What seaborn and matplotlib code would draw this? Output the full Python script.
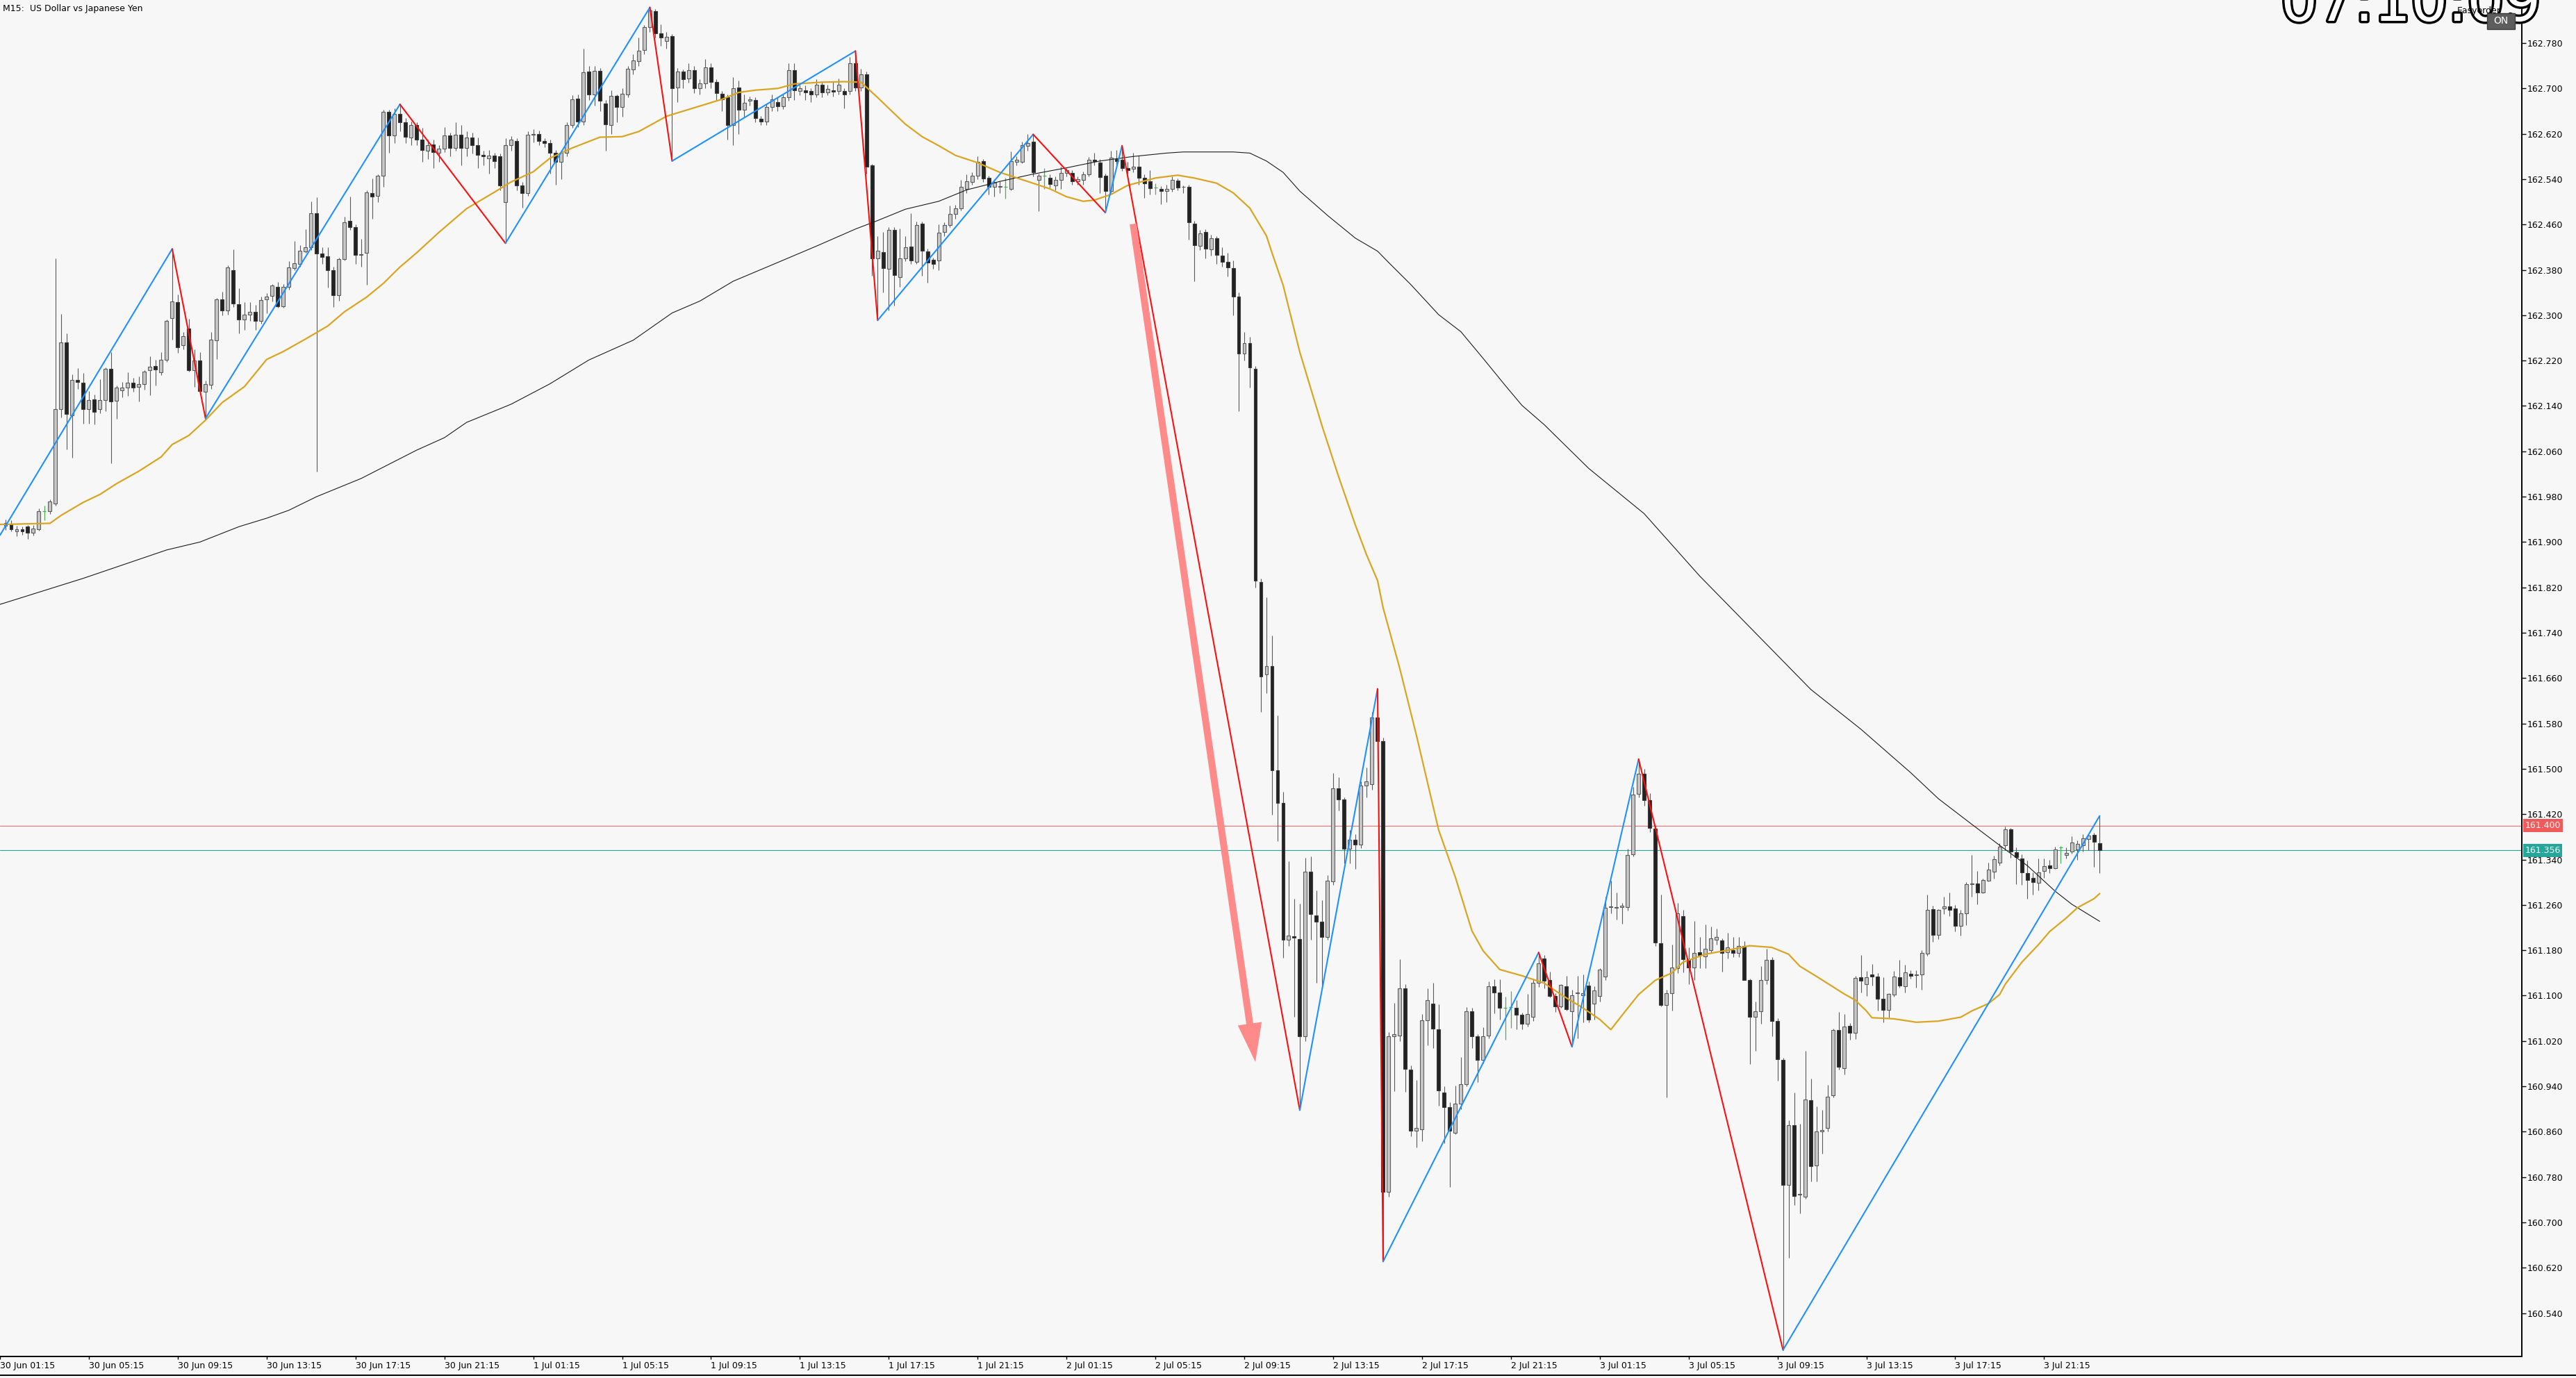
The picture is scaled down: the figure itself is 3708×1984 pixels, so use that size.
import numpy as np
import pandas as pd
import matplotlib
matplotlib.use("Agg")
import matplotlib.pyplot as plt
import matplotlib.transforms as mtransforms
from matplotlib import patheffects as pe
from matplotlib.patches import Rectangle
from matplotlib.lines import Line2D
import seaborn as sns

# ---------------- data (USDJPY, M15) ----------------
first_bar = "2024-06-30 01:30"

opens = [
 161.929,161.931,161.919,161.922,161.927,161.916,161.923,161.954,161.954,161.968,
 162.134,162.252,162.123,162.186,162.181,162.134,162.152,162.134,162.150,162.205,
 162.149,162.168,162.172,162.181,162.174,162.179,162.203,162.210,162.199,162.221,
 162.295,162.323,162.247,162.277,162.203,162.220,162.165,162.177,162.256,162.328,
 162.308,162.380,162.320,162.293,162.301,162.306,162.290,162.328,162.334,162.350,
 162.316,162.350,162.383,162.390,162.413,162.420,162.480,162.409,162.404,162.380,
 162.335,162.399,162.466,162.455,162.406,162.410,162.516,162.511,162.546,162.659,
 162.617,162.655,162.640,162.614,162.636,162.610,162.590,162.601,162.586,162.594,
 162.617,162.595,162.618,162.595,162.613,162.600,162.583,162.577,162.582,162.580,
 162.500,162.600,162.607,162.529,162.516,162.618,162.620,162.607,162.604,162.586,
 162.570,162.586,162.636,162.682,162.642,162.730,162.689,162.731,162.673,162.636,
 162.687,162.667,162.690,162.734,162.748,162.768,162.808,162.837,162.797,162.784,
 162.792,162.702,162.730,162.718,162.732,162.700,162.709,162.737,162.711,162.691,
 162.684,162.636,162.702,162.663,162.678,162.679,162.647,162.642,162.667,162.676,
 162.669,162.685,162.732,162.696,162.697,162.696,162.690,162.706,162.693,162.697,
 162.696,162.696,162.696,162.744,162.702,162.725,162.564,162.400,162.411,162.382,
 162.451,162.367,162.400,162.421,162.394,162.461,162.413,162.398,162.396,162.447,
 162.459,162.479,162.489,162.523,162.535,162.546,162.572,162.542,162.527,162.527,
 162.527,162.523,162.571,162.571,162.599,162.606,162.539,162.546,162.543,162.529,
 162.539,162.551,162.551,162.536,162.539,162.549,162.574,162.569,162.546,162.519,
 162.576,162.574,162.560,162.558,162.562,162.543,162.536,162.525,162.523,162.519,
 162.523,162.537,162.526,162.526,162.462,162.422,162.447,162.416,162.436,162.405,
 162.394,162.383,162.333,162.232,162.251,162.206,161.830,161.666,161.681,161.497,
 161.440,161.199,161.205,161.200,161.028,161.319,161.242,161.230,161.203,161.301,
 161.466,161.446,161.359,161.375,161.366,161.470,161.473,161.591,161.549,160.754,
 161.028,161.030,161.113,160.969,160.862,160.864,161.056,161.086,161.040,160.929,
 160.903,160.858,160.909,160.944,161.072,161.028,160.986,161.030,161.117,161.105,
 161.078,161.080,161.078,161.066,161.050,161.062,161.122,161.166,161.127,161.099,
 161.081,161.116,161.072,161.104,161.100,161.118,161.086,161.099,161.133,161.256,
 161.255,161.256,161.256,161.349,161.456,161.491,161.445,161.394,161.192,161.083,
 161.104,161.148,161.240,161.164,161.150,161.176,161.169,161.180,161.199,161.197,
 161.176,161.180,161.175,161.187,161.127,161.062,161.072,161.128,161.163,161.055,
 160.986,160.766,160.872,160.749,160.745,160.916,160.800,160.861,160.867,160.924,
 161.039,160.972,161.047,161.034,161.132,161.120,161.137,161.133,161.095,161.075,
 161.102,161.132,161.117,161.139,161.136,161.137,161.174,161.252,161.207,161.254,
 161.257,161.254,161.223,161.245,161.296,161.298,161.282,161.303,161.318,161.334,
 161.365,161.393,161.353,161.342,161.316,161.307,161.299,161.320,161.329,161.325,
 161.361,161.348,161.354,161.358,161.365,161.376,161.383,161.369]

highs = [
 161.940,161.938,161.929,161.928,161.930,161.930,161.959,161.964,161.975,162.400,
 162.302,162.268,162.196,162.207,162.198,162.166,162.160,162.187,162.208,162.235,
 162.176,162.182,162.199,162.190,162.192,162.203,162.227,162.222,162.235,162.293,
 162.417,162.336,162.270,162.294,162.240,162.235,162.185,162.271,162.330,162.341,
 162.388,162.416,162.348,162.323,162.323,162.318,162.333,162.339,162.355,162.359,
 162.355,162.395,162.431,162.423,162.452,162.501,162.508,162.420,162.420,162.385,
 162.402,162.474,162.509,162.460,162.435,162.520,162.541,162.548,162.663,162.663,
 162.665,162.672,162.648,162.642,162.640,162.630,162.610,162.610,162.600,162.632,
 162.622,162.640,162.636,162.625,162.622,162.613,162.590,162.592,162.586,162.585,
 162.612,162.616,162.612,162.535,162.625,162.628,162.626,162.612,162.610,162.592,
 162.592,162.640,162.688,162.690,162.770,162.740,162.740,162.736,162.680,162.697,
 162.690,162.700,162.740,162.760,162.790,162.812,162.843,162.840,162.813,162.800,
 162.796,162.736,162.734,162.745,162.740,162.716,162.752,162.745,162.716,162.695,
 162.690,162.720,162.714,162.690,162.686,162.684,162.652,162.672,162.690,162.684,
 162.690,162.745,162.745,162.706,162.705,162.700,162.716,162.713,162.706,162.712,
 162.718,162.700,162.755,162.766,162.735,162.730,162.567,162.440,162.447,162.455,
 162.455,162.453,162.440,162.480,162.465,162.465,162.418,162.402,162.460,162.464,
 162.493,162.495,162.539,162.549,162.552,162.580,162.576,162.546,162.540,162.536,
 162.542,162.589,162.580,162.606,162.619,162.619,162.550,162.559,162.548,162.545,
 162.562,162.560,162.556,162.545,162.553,162.579,162.587,162.575,162.550,162.590,
 162.592,162.599,162.570,162.587,162.582,162.548,162.556,162.532,162.528,162.530,
 162.545,162.541,162.529,162.530,162.466,162.450,162.452,162.442,162.440,162.420,
 162.410,162.397,162.340,162.270,162.262,162.210,161.835,161.802,161.735,161.594,
 161.460,161.337,161.271,161.262,161.343,161.345,161.285,161.268,161.312,161.493,
 161.485,161.450,161.392,161.385,161.478,161.502,161.600,161.641,161.555,161.036,
 161.087,161.164,161.120,160.977,160.951,161.068,161.113,161.122,161.084,160.940,
 160.912,160.941,160.991,161.080,161.078,161.032,161.044,161.125,161.129,161.129,
 161.098,161.108,161.092,161.070,161.103,161.130,161.176,161.171,161.142,161.104,
 161.120,161.135,161.110,161.135,161.137,161.125,161.116,161.148,161.275,161.303,
 161.282,161.264,161.359,161.468,161.517,161.500,161.457,161.400,161.278,161.110,
 161.190,161.263,161.251,161.185,161.232,161.204,161.225,161.222,161.218,161.201,
 161.211,161.204,161.203,161.196,161.130,161.090,161.152,161.182,161.168,161.060,
 160.990,160.880,160.929,160.874,161.002,160.953,160.905,160.898,160.943,161.042,
 161.071,161.067,161.052,161.135,161.171,161.143,161.156,161.140,161.132,161.104,
 161.143,161.163,161.154,161.145,161.145,161.180,161.278,161.259,161.253,161.274,
 161.282,161.260,161.251,161.300,161.348,161.320,161.306,161.335,161.347,161.369,
 161.398,161.396,161.361,161.349,161.338,161.317,161.342,161.342,161.340,161.363,
 161.364,161.362,161.381,161.374,161.385,161.386,161.387,161.417]

lows = [
 161.921,161.919,161.910,161.913,161.905,161.912,161.920,161.938,161.950,161.964,
 162.120,162.064,162.049,162.170,162.109,162.109,162.107,162.127,162.131,162.039,
 162.117,162.155,162.158,162.165,162.148,162.169,162.159,162.176,162.195,162.218,
 162.257,162.234,162.240,162.200,162.174,162.160,162.118,162.170,162.223,162.300,
 162.301,162.315,162.268,162.274,162.290,162.274,162.285,162.303,162.324,162.313,
 162.313,162.345,162.380,162.385,162.410,162.415,162.024,162.390,162.349,162.314,
 162.325,162.397,162.450,162.391,162.386,162.354,162.470,162.500,162.526,162.586,
 162.604,162.625,162.604,162.600,162.600,162.570,162.575,162.560,162.570,162.588,
 162.580,162.590,162.565,162.580,162.585,162.560,162.565,162.550,162.560,162.520,
 162.427,162.590,162.520,162.490,162.510,162.605,162.600,162.596,162.550,162.530,
 162.540,162.580,162.630,162.632,162.636,162.680,162.670,162.660,162.590,162.620,
 162.640,162.650,162.685,162.725,162.740,162.760,162.800,162.790,162.775,162.770,
 162.572,162.676,162.700,162.710,162.692,162.690,162.700,162.700,162.680,162.660,
 162.610,162.600,162.620,162.650,162.670,162.640,162.636,162.635,162.660,162.660,
 162.664,162.678,162.680,162.688,162.680,162.676,162.684,162.684,162.688,162.686,
 162.690,162.665,162.690,162.695,162.695,162.550,162.370,162.291,162.340,162.308,
 162.317,162.350,162.395,162.390,162.390,162.370,162.358,162.382,162.380,162.440,
 162.455,162.470,162.485,162.516,162.530,162.540,162.535,162.513,162.509,162.516,
 162.506,162.520,162.565,162.568,162.590,162.545,162.483,162.523,162.525,162.520,
 162.523,162.545,162.530,162.530,162.530,162.545,162.565,162.516,162.481,162.515,
 162.565,162.555,162.550,162.552,162.530,162.507,162.513,162.513,162.496,162.500,
 162.518,162.520,162.516,162.433,162.360,162.415,162.400,162.405,162.390,162.385,
 162.368,162.300,162.131,162.220,162.172,161.820,161.600,161.633,161.419,161.372,
 161.167,161.188,161.062,160.898,161.020,161.199,161.123,161.113,161.198,161.295,
 161.426,161.333,161.333,161.324,161.360,161.450,161.463,161.497,160.631,160.745,
 160.932,161.020,160.930,160.852,160.832,160.843,161.012,161.007,160.906,160.840,
 160.763,160.855,160.900,160.940,161.007,160.947,160.980,161.025,161.069,161.058,
 161.022,161.043,161.040,161.040,161.045,161.055,161.115,161.113,161.097,161.071,
 161.078,161.074,161.010,161.025,161.053,161.053,161.058,161.090,161.128,161.245,
 161.234,161.227,161.250,161.345,161.450,161.435,161.389,161.187,161.081,160.920,
 161.074,161.140,161.141,161.120,161.127,161.148,161.148,161.175,161.190,161.142,
 161.166,161.168,161.168,161.127,160.979,161.002,161.050,161.120,161.028,160.950,
 160.475,160.638,160.730,160.716,160.741,160.772,160.772,160.821,160.860,160.920,
 160.970,160.961,161.022,161.023,161.105,161.099,161.118,161.073,161.053,161.061,
 161.098,161.114,161.105,161.130,161.114,161.110,161.170,161.195,161.200,161.244,
 161.240,161.213,161.206,161.224,161.275,161.261,161.280,161.302,161.306,161.330,
 161.357,161.343,161.296,161.295,161.271,161.278,161.286,161.308,161.316,161.324,
 161.333,161.342,161.350,161.340,161.354,161.357,161.327,161.316]

closes = [
 161.933,161.922,161.923,161.919,161.916,161.924,161.954,161.954,161.971,162.134,
 162.252,162.126,162.186,162.182,162.135,162.150,162.130,162.150,162.205,162.148,
 162.173,162.173,162.181,162.173,162.178,162.200,162.209,162.204,162.221,162.290,
 162.324,162.244,162.263,162.203,162.220,162.166,162.179,162.257,162.328,162.308,
 162.384,162.321,162.293,162.301,162.306,162.290,162.327,162.333,162.353,162.316,
 162.350,162.384,162.392,162.414,162.420,162.480,162.409,162.403,162.380,162.335,
 162.399,162.464,162.455,162.406,162.408,162.517,162.509,162.546,162.659,162.617,
 162.655,162.640,162.615,162.636,162.610,162.592,162.600,162.588,162.594,162.617,
 162.595,162.618,162.595,162.613,162.600,162.583,162.580,162.582,162.572,162.529,
 162.600,162.610,162.529,162.516,162.618,162.620,162.607,162.604,162.586,162.570,
 162.586,162.636,162.681,162.642,162.728,162.689,162.731,162.678,162.637,162.687,
 162.667,162.691,162.735,162.749,162.767,162.808,162.838,162.797,162.790,162.791,
 162.700,162.730,162.716,162.732,162.700,162.709,162.737,162.712,162.692,162.681,
 162.636,162.700,162.663,162.675,162.681,162.648,162.642,162.667,162.681,162.669,
 162.684,162.732,162.697,162.700,162.693,162.690,162.706,162.693,162.699,162.694,
 162.706,162.690,162.744,162.702,162.725,162.562,162.400,162.414,162.383,162.451,
 162.371,162.400,162.420,162.396,162.459,162.414,162.393,162.390,162.446,162.459,
 162.479,162.489,162.526,162.536,162.546,162.571,162.541,162.526,162.534,162.528,
 162.527,162.572,162.574,162.600,162.604,162.552,162.546,162.546,162.531,162.539,
 162.551,162.556,162.536,162.540,162.549,162.574,162.572,162.544,162.519,162.578,
 162.572,162.560,162.556,162.562,162.543,162.533,162.524,162.525,162.519,162.523,
 162.539,162.525,162.527,162.464,162.423,162.444,162.418,162.436,162.406,162.394,
 162.384,162.333,162.232,162.251,162.208,161.832,161.663,161.681,161.497,161.440,
 161.199,161.206,161.202,161.028,161.319,161.244,161.230,161.203,161.303,161.466,
 161.446,161.359,161.375,161.366,161.470,161.478,161.591,161.549,160.754,161.028,
 161.032,161.113,160.971,160.862,160.866,161.056,161.092,161.042,160.933,160.903,
 160.862,160.909,160.944,161.072,161.028,160.986,161.028,161.117,161.105,161.078,
 161.078,161.080,161.066,161.050,161.068,161.122,161.157,161.126,161.099,161.081,
 161.119,161.076,161.100,161.105,161.104,161.058,161.109,161.146,161.255,161.257,
 161.256,161.258,161.348,161.454,161.491,161.445,161.396,161.194,161.083,161.104,
 161.150,161.245,161.164,161.150,161.175,161.171,161.182,161.201,161.203,161.175,
 161.185,161.175,161.187,161.128,161.062,161.072,161.128,161.163,161.055,160.988,
 160.766,160.872,160.747,160.750,160.917,160.799,160.860,160.863,160.922,161.039,
 160.974,161.046,161.034,161.131,161.126,161.132,161.133,161.094,161.075,161.103,
 161.133,161.118,161.141,161.135,161.137,161.175,161.251,161.207,161.251,161.257,
 161.251,161.223,161.245,161.296,161.298,161.282,161.304,161.322,161.341,161.363,
 161.393,161.354,161.344,161.317,161.304,161.300,161.317,161.328,161.325,161.358,
 161.361,161.352,161.370,161.368,161.377,161.382,161.371,161.356]

# fast moving average (orange), read at bar indices
ma_fast_idx = [-1,8,10,14,17,20,24,28,30,33,36,39,43,47,50,54,58,61,65,68,71,74,78,83,88,91,95,98,
               102,107,111,114,119,124,129,132,135,139,142,147,151,154,157,159,162,165,168,171,175,
               179,184,188,191,194,196,199,202,207,211,214,218,221,224,227,228,230,233,237,240,243,
               245,247,248,251,254,258,261,264,266,269,273,277,280,284,287,289,291,294,297,300,302,
               306,310,314,318,321,323,326,331,333,335,336,340,344,348,352,354,357,359,360,363,366,
               368,371,373,376,377]
ma_fast_val = [161.931,161.933,161.947,161.970,161.984,162.003,162.025,162.050,162.072,162.088,162.115,
               162.146,162.174,162.222,162.236,162.258,162.281,162.306,162.332,162.356,162.385,162.410,
               162.446,162.488,162.517,162.535,162.553,162.577,162.595,162.614,162.615,162.624,162.651,
               162.666,162.681,162.693,162.697,162.700,162.708,162.711,162.712,162.711,162.684,162.665,
               162.637,162.615,162.599,162.582,162.569,162.552,162.536,162.523,162.509,162.501,162.503,
               162.513,162.529,162.542,162.547,162.542,162.533,162.516,162.489,162.440,162.410,162.353,
               162.235,162.105,162.015,161.930,161.878,161.832,161.784,161.677,161.559,161.392,161.309,
               161.214,161.179,161.146,161.135,161.122,161.102,161.078,161.058,161.040,161.065,161.102,
               161.127,161.140,161.159,161.173,161.180,161.188,161.185,161.173,161.152,161.134,161.103,
               161.092,161.073,161.061,161.059,161.053,161.055,161.062,161.073,161.086,161.102,161.120,
               161.159,161.190,161.213,161.237,161.255,161.271,161.280]

# slow moving average (black), read at bar indices
ma_slow_idx = [-1,14,29,35,42,47,51,56,64,69,74,79,83,91,98,105,113,120,125,131,139,146,153,157,162,
               168,173,179,185,191,197,203,209,212,221,224,227,230,233,238,243,247,249,253,258,262,
               266,270,273,277,285,295,305,315,325,334,343,348,354,359,364,369,372,377]
ma_slow_val = [161.790,161.836,161.886,161.900,161.927,161.942,161.956,161.980,162.012,162.037,162.062,
               162.084,162.111,162.143,162.179,162.221,162.256,162.304,162.325,162.360,162.393,162.422,
               162.452,162.467,162.487,162.501,162.521,162.536,162.549,162.560,162.572,162.580,162.586,
               162.588,162.588,162.586,162.572,162.552,162.519,162.476,162.436,162.413,162.393,162.354,
               162.301,162.271,162.224,162.176,162.141,162.107,162.030,161.950,161.840,161.740,161.640,
               161.570,161.493,161.447,161.402,161.365,161.329,161.284,161.261,161.231]

# zigzag swing points
zz_idx = [-1, 30, 36, 71, 90, 116, 120, 153, 157, 185, 198, 201, 233, 247, 248, 276, 282, 294, 320, 377]
zz_val = [161.912, 162.417, 162.118, 162.672, 162.427, 162.843, 162.572, 162.766, 162.291, 162.619,
          162.481, 162.599, 160.898, 161.641, 160.631, 161.176, 161.010, 161.517, 160.475, 161.417]

# hand-drawn arrow (start / end, bar index & price)
arrow_from = (203, 162.461)
arrow_to = (225, 160.983)

ask_level = 161.400
bid_level = 161.356

y_tick_labels = ["160.540","160.620","160.700","160.780","160.860","160.940","161.020","161.100",
                 "161.180","161.260","161.340","161.420","161.500","161.580","161.660","161.740",
                 "161.820","161.900","161.980","162.060","162.140","162.220","162.300","162.380",
                 "162.460","162.540","162.620","162.700","162.780"]
x_tick_labels = ["30 Jun 01:15","30 Jun 05:15","30 Jun 09:15","30 Jun 13:15","30 Jun 17:15","30 Jun 21:15",
                 "1 Jul 01:15","1 Jul 05:15","1 Jul 09:15","1 Jul 13:15","1 Jul 17:15","1 Jul 21:15",
                 "2 Jul 01:15","2 Jul 05:15","2 Jul 09:15","2 Jul 13:15","2 Jul 17:15","2 Jul 21:15",
                 "3 Jul 01:15","3 Jul 05:15","3 Jul 09:15","3 Jul 13:15","3 Jul 17:15","3 Jul 21:15"]

title_text = "M15:  US Dollar vs Japanese Yen"
clock_text = "07:10:09"

# ---------------- styling ----------------
BG = "#f7f7f7"
sns.set_theme(style="white", rc={"axes.facecolor": BG, "figure.facecolor": BG})
plt.rcParams["font.family"] = ["DejaVu Sans"]

W, H, DPI = 3708, 1984, 100
fig = plt.figure(figsize=(W / DPI, H / DPI), dpi=DPI)
fig.patch.set_facecolor(BG)
ax = fig.add_axes([0, 31 / H, 3630 / W, 1 - 31 / H])
ax.set_facecolor(BG)

o = np.array(opens); h = np.array(highs); l = np.array(lows); c = np.array(closes)
x = np.arange(len(o))
bull = c > o
bear = c < o
doji = c == o

GREEN = "#4caf50"
WICK = "#5a5a5a"

# wicks
ax.vlines(x[~doji], l[~doji], h[~doji], colors=WICK, linewidth=0.8, zorder=2)
ax.vlines(x[doji], l[doji], h[doji], colors=GREEN, linewidth=0.9, zorder=2)
# bodies
bw = 0.62
ax.bar(x[bull], (c - o)[bull], bottom=o[bull], width=bw, color="#c6c6c6",
       edgecolor="#5c5c5c", linewidth=0.8, zorder=3)
ax.bar(x[bear], (o - c)[bear], bottom=c[bear], width=bw, color="#222222",
       edgecolor="#3a3a3a", linewidth=0.8, zorder=3)
ax.hlines(o[doji], x[doji] - bw / 2, x[doji] + bw / 2, colors=GREEN, linewidth=0.9, zorder=3)

# level lines
ax.axhline(ask_level, color="#f07070", linewidth=0.8, zorder=1.5)
ax.axhline(bid_level, color="#26a69a", linewidth=0.8, zorder=1.5)

# moving averages (seaborn)
sns.lineplot(x=ma_slow_idx, y=ma_slow_val, ax=ax, color="#1a1a1a", linewidth=0.8,
             estimator=None, sort=False, zorder=4)
sns.lineplot(x=ma_fast_idx, y=ma_fast_val, ax=ax, color="#daa520", linewidth=1.6,
             estimator=None, sort=False, zorder=4)

# zigzag
for k in range(len(zz_idx) - 1):
    up = zz_val[k + 1] > zz_val[k]
    ax.plot([zz_idx[k], zz_idx[k + 1]], [zz_val[k], zz_val[k + 1]],
            color="#1e90ff" if up else "#ff0d0d", linewidth=1.5, zorder=5,
            solid_capstyle="round")

# arrow
ax.annotate("", xy=arrow_to, xytext=arrow_from,
            arrowprops=dict(arrowstyle="simple,head_length=4.0,head_width=2.5,tail_width=0.72",
                            mutation_scale=10, color="#ff8a8a", lw=0,
                            shrinkA=0, shrinkB=0), zorder=6)

# axes limits and ticks
ax.set_xlim(-0.75, 453)
ax.set_ylim(160.4635, 162.856)

ax.yaxis.tick_right()
ax.set_yticks([float(s) for s in y_tick_labels])
ax.set_yticklabels(y_tick_labels)
ax.tick_params(axis="y", which="major", direction="out", length=4, width=1, pad=1.5,
               labelsize=9, colors="black", right=True, left=False)

t0 = pd.Timestamp(first_bar)
xt = pd.to_datetime([s + " 2024" for s in x_tick_labels], format="%d %b %H:%M %Y")
xpos = [(t - t0) / pd.Timedelta(minutes=15) for t in xt]
ax.set_xticks(xpos)
ax.set_xticklabels(x_tick_labels)
for lab in ax.get_xticklabels():
    lab.set_horizontalalignment("left")
ax.tick_params(axis="x", which="major", direction="out", length=3, width=1, pad=2,
               labelsize=9, colors="black", bottom=True)
ax.set_xlabel("")
ax.set_ylabel("")

for s in ["left", "top"]:
    ax.spines[s].set_visible(False)
for s in ["right", "bottom"]:
    ax.spines[s].set_color("black")
    ax.spines[s].set_linewidth(1.4)
ax.grid(False)

# price labels on the axis
trans = mtransforms.blended_transform_factory(ax.transAxes, ax.transData)
ax.text(1.0012, ask_level, f"{ask_level:.3f}", transform=trans, va="center", ha="left",
        fontsize=9, color="white", zorder=10, clip_on=False,
        bbox=dict(boxstyle="square,pad=0.22", facecolor="#f05a5a", edgecolor="none"))
ax.text(1.0012, bid_level, f"{bid_level:.3f}", transform=trans, va="center", ha="left",
        fontsize=9, color="white", zorder=10, clip_on=False,
        bbox=dict(boxstyle="square,pad=0.22", facecolor="#26a69a", edgecolor="none"))

# title
ax.text(0.0012, 0.997, title_text, transform=ax.transAxes, va="top", ha="left",
        fontsize=9, color="black", zorder=10)

# top-right widgets
fig.text(3283 / W, 1 - 30 / H, clock_text, fontsize=60, color="white", ha="left", va="baseline",
         path_effects=[pe.withStroke(linewidth=5, foreground="black")], zorder=20)
fig.text(3537 / W, 1 - 19 / H, "Easyorder", fontsize=9, color="black", ha="left", va="baseline",
         zorder=21)
fig.add_artist(Rectangle((3580 / W, 1 - 42 / H), 40 / W, 23 / H, transform=fig.transFigure,
                         facecolor="#5d5d5d", edgecolor="#3c3c3c", linewidth=1, zorder=22))
fig.text(3600 / W, 1 - 30.5 / H, "ON", fontsize=10, color="white", ha="center", va="center",
         zorder=23)

# bottom border line
fig.add_artist(Line2D([0, 1], [4 / H, 4 / H], transform=fig.transFigure, color="black",
                      linewidth=1.4))

fig.savefig("out.png", dpi=DPI, facecolor=BG)
